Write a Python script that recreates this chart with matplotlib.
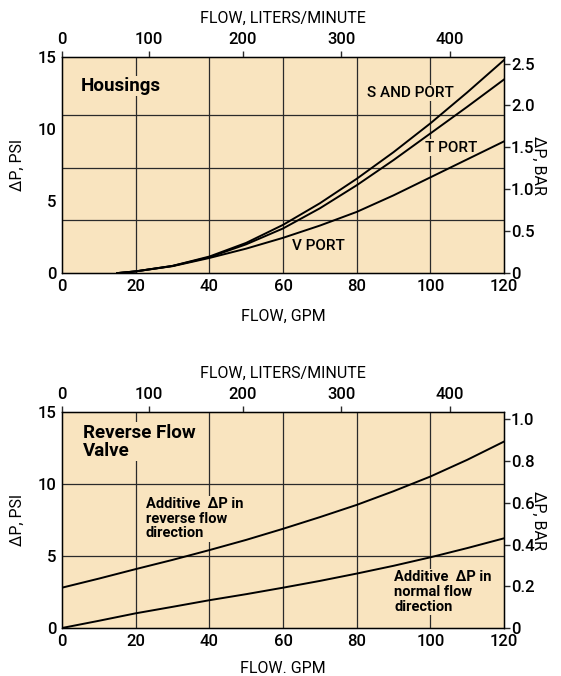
import matplotlib
matplotlib.use("Agg")
import matplotlib.pyplot as plt

plt.rcParams['font.family'] = ['Roboto', 'DejaVu Sans']
plt.rcParams['font.weight'] = 'medium'

BG = '#F9E4BF'
GRID = '#2a2a2a'
FS = 12

# ---- data ----
gpm_ticks = [0, 20, 40, 60, 80, 100, 120]
lpm_labels = ['0', '100', '200', '300', '400']
lpm_at_gpm = [0, 23.6, 49.0, 75.8, 105.2]   # where the l/min labels sit on the gpm scale

# housings
h_gpm = [15, 20, 30, 40, 50, 60, 70, 80, 90, 100, 110, 120]
h_s_port = [0.0, 0.12, 0.5, 1.15, 2.1, 3.35, 4.85, 6.55, 8.4, 10.4, 12.55, 14.8]
h_t_port = [0.0, 0.12, 0.5, 1.1, 2.0, 3.1, 4.5, 6.1, 7.85, 9.7, 11.55, 13.45]
h_v_port = [0.0, 0.12, 0.48, 1.05, 1.7, 2.45, 3.3, 4.25, 5.4, 6.65, 7.9, 9.15]
h_bar_ticks = [0, 0.5, 1.0, 1.5, 2.0, 2.5]
h_bar_labels = ['0', '0.5', '1.0', '1.5', '2.0', '2.5']

# reverse flow valve
r_gpm = [0, 10, 20, 30, 40, 50, 60, 70, 80, 90, 100, 110, 120]
r_reverse = [2.8, 3.43, 4.09, 4.73, 5.41, 6.12, 6.89, 7.7, 8.55, 9.5, 10.52, 11.68, 12.95]
r_normal = [0.0, 0.5, 1.02, 1.47, 1.93, 2.35, 2.8, 3.27, 3.78, 4.32, 4.91, 5.55, 6.23]
r_bar_ticks = [0, 0.2, 0.4, 0.6, 0.8, 1.0]
r_bar_labels = ['0', '0.2', '0.4', '0.6', '0.8', '1.0']


def setup_panel(rect, hgrid, bar_ticks, bar_labels, bar_top, xlabel, xpad):
    ax = fig.add_axes(rect)
    ax.set_facecolor(BG)
    ax.set_xlim(0, 120)
    ax.set_ylim(0, 15)
    ax.set_xticks(gpm_ticks)
    ax.set_yticks([0, 5, 10, 15])
    ax.tick_params(length=0, labelsize=FS, pad=4)
    for g in gpm_ticks[1:-1]:
        ax.axvline(g, color=GRID, lw=0.9, zorder=1)
    for h in hgrid:
        ax.axhline(h, color=GRID, lw=0.9, zorder=1)
    for s in ax.spines.values():
        s.set_color(GRID)
        s.set_linewidth(1.0)
    ax.set_ylabel('∆P, PSI', fontsize=11.5, labelpad=9)
    ax.set_xlabel(xlabel, fontsize=11.5, labelpad=xpad)

    top = ax.twiny()
    top.set_xlim(0, 120)
    top.set_xticks(lpm_at_gpm)
    top.set_xticklabels(lpm_labels)
    top.tick_params(length=4, width=1.0, color=GRID, labelsize=FS, pad=3)
    top.set_xlabel('FLOW, LITERS/MINUTE', fontsize=11.5, labelpad=7)

    right = ax.twinx()
    right.set_ylim(0, bar_top)
    right.set_yticks(bar_ticks)
    right.set_yticklabels(bar_labels)
    right.tick_params(length=4, width=1.0, color=GRID, labelsize=FS, pad=1)
    right.set_ylabel('∆P, BAR', fontsize=11.5, rotation=270, labelpad=8)
    return ax


fig = plt.figure(figsize=(5.61, 6.76), dpi=100, facecolor='white')
box = dict(facecolor=BG, edgecolor='none', pad=1.0)

# ---- top panel: housings ----
ax1 = setup_panel([0.1105, 0.596, 0.788, 0.3195], [11 / 3, 22 / 3, 11.0],
                  h_bar_ticks, h_bar_labels, 2.577, 'FLOW, GPM', 11)
for ys in (h_s_port, h_t_port, h_v_port):
    ax1.plot(h_gpm, ys, color='black', lw=1.4, zorder=3)
ax1.text(5.0, 13.0, 'Housings', fontsize=13.5, fontweight='bold',
         va='center', ha='left', bbox=box, zorder=2)
ax1.text(94.5, 12.5, 'S AND PORT', fontsize=11, va='center', ha='center',
         bbox=box, zorder=2)
ax1.text(105.6, 8.7, 'T PORT', fontsize=11, va='center', ha='center',
         bbox=box, zorder=2)
ax1.text(69.5, 1.9, 'V PORT', fontsize=11, va='center', ha='center',
         bbox=box, zorder=2)

# ---- bottom panel: reverse flow valve ----
ax2 = setup_panel([0.1105, 0.071, 0.788, 0.3195], [5, 10],
                  r_bar_ticks, r_bar_labels, 1.035, 'FLOW. GPM', 9)
ax2.plot(r_gpm, r_reverse, color='black', lw=1.4, zorder=3)
ax2.plot(r_gpm, r_normal, color='black', lw=1.4, zorder=3)
ax2.text(5.6, 12.95, 'Reverse Flow\nValve', fontsize=13.5, fontweight='bold',
         va='center', ha='left', linespacing=1.0, bbox=box, zorder=2)
ax2.text(22.8, 7.6, 'Additive  ∆P in\nreverse flow\ndirection', fontsize=10.5,
         fontweight='bold', va='center', ha='left', linespacing=1.05,
         bbox=box, zorder=2)
ax2.text(90.2, 2.5, 'Additive  ∆P in\nnormal flow\ndirection', fontsize=10.5,
         fontweight='bold', va='center', ha='left', linespacing=1.05,
         bbox=box, zorder=2)

fig.savefig('out.png', dpi=100, facecolor='white')
